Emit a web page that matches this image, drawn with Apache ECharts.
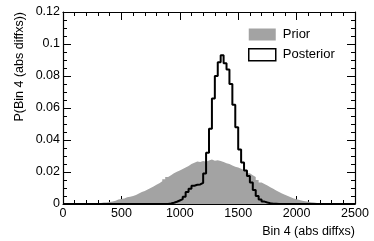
<!DOCTYPE html>
<html><head><meta charset="utf-8">
<script src="https://cdn.jsdelivr.net/npm/echarts@6/dist/echarts.min.js"></script>
<style>html,body{margin:0;padding:0;background:#fff}#c{width:374px;height:241px}</style>
</head><body><div id="c"></div>
<script>
// bin left edges (width 25) from 0 to 2475
var binWidth = 25;
var binStarts = [];
for (var b = 0; b < 100; b++) binStarts.push(b * binWidth);

var priorValues = [
0,0,0,0.0001,0.0001,0.0002,0.0002,0.0003,0.0004,0.0004,
0.0005,0.0006,0.0007,0.0009,0.0010,0.0012,0.0015,0.0020,0.0028,0.0032,
0.0035,0.0042,0.0046,0.0050,0.0056,0.0065,0.0075,0.0082,0.0090,0.0100,
0.0110,0.0120,0.0130,0.0142,0.0155,0.0168,0.0180,0.0192,0.0202,0.0210,
0.0218,0.0228,0.0238,0.0250,0.0258,0.0265,0.0262,0.0268,0.0264,0.0272,
0.0278,0.0270,0.0274,0.0268,0.0262,0.0255,0.0250,0.0240,0.0233,0.0228,
0.0220,0.0212,0.0205,0.0192,0.0180,0.0168,0.0150,0.0135,0.0125,0.0115,
0.0105,0.0095,0.0085,0.0075,0.0066,0.0058,0.0050,0.0042,0.0035,0.0030,
0.0025,0.0020,0.0017,0.0014,0.0011,0.0009,0.0007,0.0005,0.0004,0.0003,
0.0003,0.0002,0.0002,0.0001,0.0001,0.0001,0,0,0,0
];
var posteriorValues = [
0,0,0,0,0,0,0,0,0,0,
0,0,0,0,0,0,0,0,0,0,
0,0,0,0,0,0,0,0,0,0,
0,0,0,0,0,0,0.0003,0.0008,0.0014,0.0022,
0.0030,0.0046,0.0075,0.0095,0.0114,0.0120,0.0122,0.0132,0.0190,0.0320,
0.0470,0.0660,0.0800,0.0886,0.0930,0.0880,0.0840,0.0750,0.0620,0.0480,
0.0340,0.0260,0.0210,0.0175,0.0135,0.0087,0.0050,0.0028,0.0015,0.0009,
0.0005,0.0002,0.0001,0,0,0,0,0,0,0,
0,0,0,0,0,0,0,0,0,0,
0,0,0,0,0,0,0,0,0,0
];
var xTicks = [0, 500, 1000, 1500, 2000, 2500];
var yTicks = [0, 0.02, 0.04, 0.06, 0.08, 0.1, 0.12];
var seriesNames = ['Prior', 'Posterior'];
var xTitle = 'Bin 4 (abs diffxs)';
var yTitle = 'P(Bin 4 (abs diffxs))';

function stepData(vals) {
  var d = [];
  for (var i = 0; i < vals.length; i++) d.push([binStarts[i], vals[i]]);
  d.push([binStarts[vals.length - 1] + binWidth, vals[vals.length - 1]]);
  return d;
}

var FONT = 'Liberation Sans, Arial, Helvetica, sans-serif';
var chart = echarts.init(document.getElementById('c'), null, {renderer: 'canvas'});

function xAxisCfg(pos, labels) {
  return {
    type: 'value', position: pos, min: xTicks[0], max: xTicks[xTicks.length - 1],
    interval: xTicks[1] - xTicks[0],
    axisLine: {show: true, onZero: false, lineStyle: {color: '#000', width: 1.2}},
    axisTick: {show: true, inside: true, length: 8, lineStyle: {color: '#000', width: 1}},
    minorTick: {show: true, splitNumber: 5, length: 4, lineStyle: {color: '#000', width: 1}},
    splitLine: {show: false},
    axisLabel: {show: labels, color: '#000', fontSize: 12.5, fontFamily: FONT, margin: 3,
      formatter: function (v) { return String(v); }},
    name: labels ? xTitle : '', nameLocation: 'end', nameGap: 0,
    nameTextStyle: {align: 'right', verticalAlign: 'top', color: '#000', fontSize: 12.5, fontFamily: FONT, padding: [21, 0, 0, 0]}
  };
}
function yAxisCfg(pos, labels) {
  return {
    type: 'value', position: pos, min: yTicks[0], max: yTicks[yTicks.length - 1],
    interval: yTicks[1] - yTicks[0],
    axisLine: {show: true, onZero: false, lineStyle: {color: '#000', width: 1.2}},
    axisTick: {show: true, inside: true, length: 8, lineStyle: {color: '#000', width: 1}},
    minorTick: {show: true, splitNumber: 4, length: 4, lineStyle: {color: '#000', width: 1}},
    splitLine: {show: false},
    axisLabel: {show: labels, color: '#000', fontSize: 12.5, fontFamily: FONT, margin: 3,
      formatter: function (v) { return String(+v.toFixed(2)); }},
    name: labels ? yTitle : '', nameLocation: 'end', nameGap: 0, nameRotate: 90,
    nameTextStyle: {align: 'right', verticalAlign: 'bottom', color: '#000', fontSize: 12.5, fontFamily: FONT, padding: [0, 0, 37, 0]}
  };
}

chart.setOption({
  animation: false,
  backgroundColor: '#fff',
  grid: {left: 63, top: 12, width: 292, height: 192, containLabel: false},
  xAxis: [xAxisCfg('bottom', true), xAxisCfg('top', false)],
  yAxis: [yAxisCfg('left', true), yAxisCfg('right', false)],
  legend: {
    left: 248, top: 28, padding: 0, orient: 'vertical', itemWidth: 27, itemHeight: 12, itemGap: 7,
    textStyle: {color: '#000', fontSize: 13, fontFamily: FONT, padding: [0, 0, 0, 2]},
    data: [
      {name: seriesNames[0], icon: 'rect', itemStyle: {color: '#a3a3a3', borderWidth: 0}},
      {name: seriesNames[1], icon: 'rect', itemStyle: {color: '#fff', borderColor: '#000', borderWidth: 1.5}}
    ]
  },
  series: [
    {
      name: seriesNames[0], type: 'line', step: 'end', xAxisIndex: 0, yAxisIndex: 0,
      data: stepData(priorValues), symbol: 'none',
      lineStyle: {width: 0, color: '#a3a3a3'}, itemStyle: {color: '#a3a3a3'},
      areaStyle: {color: '#a3a3a3', opacity: 1}, z: 1
    },
    {
      name: seriesNames[1], type: 'line', step: 'end', xAxisIndex: 0, yAxisIndex: 0,
      data: stepData(posteriorValues), symbol: 'none',
      lineStyle: {width: 2, color: '#000'}, itemStyle: {color: '#000'}, z: 2
    }
  ]
});
</script>
</body></html>
